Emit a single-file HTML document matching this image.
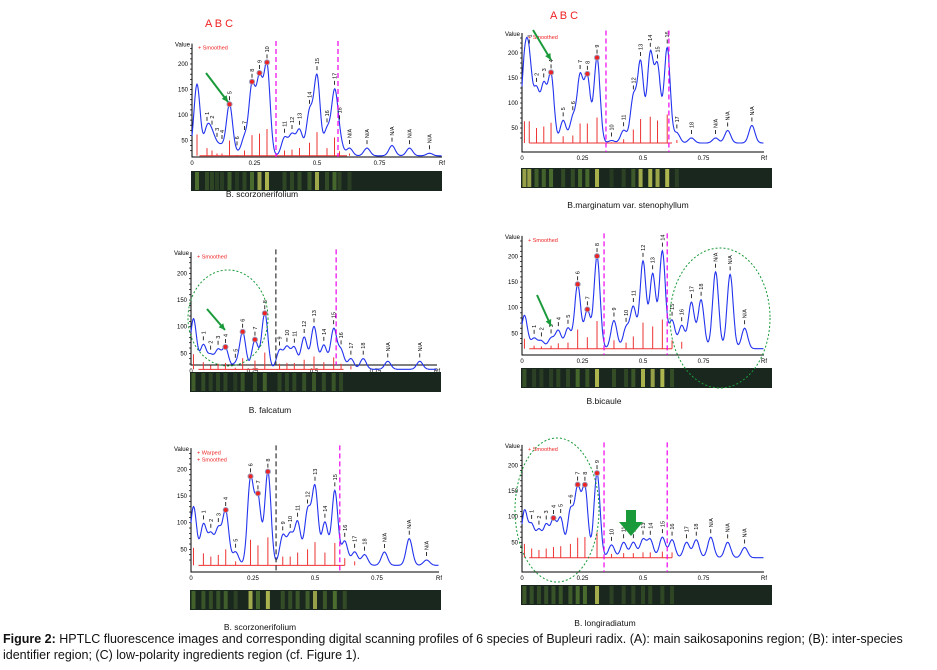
<!DOCTYPE html>
<html><head><meta charset="utf-8"><style>
body{margin:0;background:#fff;width:937px;height:670px;overflow:hidden;font-family:"Liberation Sans",sans-serif}
svg text{font-family:"Liberation Sans",sans-serif}
.cap{position:absolute;left:3px;top:631px;width:932px;font-size:12.5px;line-height:16px;color:#111}
</style></head><body>
<svg id="fig" width="937" height="670" style="position:absolute;left:0;top:0"></svg>
<div class="cap"><b>Figure 2:</b> HPTLC fluorescence images and corresponding digital scanning profiles of 6 species of Bupleuri radix. (A): main saikosaponins region; (B): inter-species identifier region; (C) low-polarity ingredients region (cf. Figure 1).</div>
<script>
const rfA=[0.02,0.06,0.08,0.1,0.12,0.15,0.18,0.21,0.24,0.27,0.3,0.37,0.4,0.43,0.47,0.5,0.54,0.57,0.59,0.63,0.7,0.8,0.87,0.95];
const valA=[160,70,55,35,35,120,25,55,155,165,195,55,60,70,105,175,70,140,50,35,35,40,35,25];
const rfB=[0.01,0.03,0.06,0.09,0.12,0.17,0.21,0.24,0.27,0.31,0.37,0.42,0.46,0.49,0.53,0.56,0.6,0.64,0.7,0.8,0.85,0.95];
const valB=[165,165,120,130,155,65,70,150,150,190,25,45,110,180,195,170,210,40,30,30,45,55];
const rfC=[0.01,0.05,0.08,0.11,0.14,0.18,0.21,0.26,0.3,0.36,0.39,0.42,0.46,0.5,0.54,0.58,0.61,0.65,0.7,0.8,0.93];
const valC=[115,65,45,55,60,30,90,75,125,55,60,60,80,100,65,95,55,40,40,35,35];
const rfD=[0.01,0.05,0.08,0.12,0.15,0.19,0.23,0.27,0.31,0.38,0.43,0.46,0.5,0.54,0.58,0.62,0.66,0.7,0.74,0.8,0.86,0.92];
const valD=[85,40,35,40,55,60,145,95,200,75,60,100,190,165,210,75,65,110,115,170,165,60];
const rfE=[0.01,0.05,0.08,0.11,0.14,0.18,0.24,0.27,0.31,0.37,0.4,0.43,0.47,0.5,0.54,0.58,0.62,0.66,0.7,0.78,0.88,0.95];
const valE=[130,95,75,85,120,45,180,145,195,75,75,100,120,165,100,160,65,45,40,45,70,30];
const rfF=[0.01,0.04,0.07,0.1,0.13,0.16,0.2,0.23,0.26,0.31,0.37,0.42,0.46,0.5,0.53,0.58,0.62,0.68,0.72,0.78,0.85,0.92];
const valF=[110,80,70,80,90,95,110,150,155,185,45,50,50,55,55,60,55,50,55,60,50,40];
const yTicks=[50,100,150,200];
const xTicks=["0","0.25","0.5","0.75"];

const panels=[
 {n:"a",rf:rfA,v:valA,x0:192,xs:250,y0:166,ys:0.51,ax:157,dash:[0.336,0.584],dashBlack:false,strip:171,label:"B. scorzonerifolium",lx:262,ly:197,dots:[5,8,9,10],leg:["+ Smoothed"]},
 {n:"b",rf:rfB,v:valB,x0:522,xs:242,y0:153,ys:0.5,ax:152,dash:[0.347,0.607],dashBlack:false,strip:168,label:"B.marginatum var. stenophyllum",lx:628,ly:208,dots:[4,8,9],leg:["+ Smoothed"]},
 {n:"c",rf:rfC,v:valC,x0:191,xs:246,y0:380,ys:0.533,ax:365,dash:[0.345,0.59],dashBlack:true,strip:372,label:"B. falcatum",lx:270,ly:413,dots:[4,6,7,8],leg:["+ Smoothed"]},
 {n:"d",rf:rfD,v:valD,x0:522,xs:242,y0:359,ys:0.513,ax:355,dash:[0.339,0.6],dashBlack:false,strip:368,label:"B.bicaule",lx:604,ly:404,dots:[6,7,8],leg:["+ Smoothed"]},
 {n:"e",rf:rfE,v:valE,x0:191,xs:248,y0:576,ys:0.533,ax:572,dash:[0.343,0.6],dashBlack:true,strip:590,label:"B. scorzonerifolium",lx:260,ly:630,dots:[4,6,7,8],leg:["+ Warped","+ Smoothed"]},
 {n:"f",rf:rfF,v:valF,x0:522,xs:242,y0:568,ys:0.513,ax:572,dash:[0.339,0.6],dashBlack:false,strip:585,label:"B. longiradiatum",lx:605,ly:626,dots:[4,7,8,9],leg:["+ Smoothed"]}
];
const NS="http://www.w3.org/2000/svg";
const svg=document.getElementById("fig");
function mk(tag,at,parent){const e=document.createElementNS(NS,tag);for(const k in at)e.setAttribute(k,at[k]);(parent||svg).appendChild(e);return e;}
panels.forEach(p=>{
 const g=mk("g",{});
 
 
 const X=r=>p.x0+r*p.xs, Y=v=>p.y0-v*p.ys;
 const base=20, sig=0.0125;
 const f=r=>{let s=base;p.rf.forEach((c,i)=>{s+=(p.v[i]-base)*Math.exp(-((r-c)*(r-c))/(2*sig*sig));});return Math.min(s,235);};
 const axl=mk("path",{d:`M${p.x0} ${Y(240)}V${p.ax}H${p.x0+p.xs*1.0}`,stroke:"#000","stroke-width":1,fill:"none"},g);
 
 const vt=mk("text",{x:p.x0-17,y:Y(240)+3,"font-size":6,fill:"#000"},g);vt.textContent="Value";
 
 for(let v=30;v<=230;v+=10){mk("line",{x1:p.x0-2,x2:p.x0,y1:Y(v),y2:Y(v),stroke:"#000","stroke-width":0.7},g);}
 yTicks.forEach(v=>{const t=mk("text",{x:p.x0-4,y:Y(v)+2,"font-size":6,"text-anchor":"end"},g);t.textContent=v;
  });
 xTicks.forEach((s,i)=>{const t=mk("text",{x:X(i*0.25),y:p.ax+8,"font-size":6,"text-anchor":"middle"},g);t.textContent=s;
  });
 const rft=mk("text",{x:X(1)-3,y:p.ax+8,"font-size":6},g);rft.textContent="Rf";
 
 p.leg.forEach((s,i)=>{const t=mk("text",{x:p.x0+6,y:Y(228)+i*7,"font-size":5.5,fill:"#e22"},g);t.textContent=s;
  });
 mk("line",{x1:X(0.03),x2:X(0.62),y1:Y(base),y2:Y(base),stroke:"#e33","stroke-width":1},g);
 p.rf.forEach((c,i)=>{if(c>0.66)return;const s=mk("line",{x1:X(c),x2:X(c),y1:Y(base),y2:Y(base+(p.v[i]-base)*0.3),stroke:"#e33","stroke-width":1},g);
  });
 let d="";for(let r=0;r<=1.0;r+=0.002){d+=(d?"L":"M")+X(r).toFixed(1)+" "+Y(f(r)).toFixed(1);}
 const cv=mk("path",{d,stroke:"#2233ee","stroke-width":1.1,fill:"none"},g);
 
 p.rf.forEach((c,i)=>{if(i==0)return;const yy=Y(f(c))-4;mk("line",{x1:X(c),x2:X(c),y1:yy,y2:yy-4,stroke:"#000","stroke-width":0.8},g);
  const t=mk("text",{x:X(c)+2,y:yy-6,"font-size":5.5,transform:`rotate(-90 ${X(c)+2} ${yy-6})`},g);t.textContent=i<19?i:"N/A";
  });
 p.dots.forEach(i=>{const dt=mk("circle",{cx:X(p.rf[i]),cy:Y(f(p.rf[i])),r:2.5,fill:"#e22",stroke:"#99b",'stroke-width':1},g);
  });
 p.dash.forEach((r,k)=>{const ln=mk("line",{x1:X(r),x2:X(r),y1:Y(245),y2:p.ax,stroke:(k==0&&p.dashBlack)?"#333":"#e0e",'stroke-width':1.2,'stroke-dasharray':"5,3"},g);
  });
 const st=mk("rect",{x:p.x0-1,y:p.strip,width:251,height:20,fill:"#1a271f"},g);
 
 p.rf.forEach((c,i)=>{if(c>0.64)return;const a=Math.min(1,(p.v[i]-20)/180);
  const b=mk("rect",{x:X(c)-2,y:p.strip+1,width:4,height:18,fill:a>0.8?"#e0e860":"#6a9a38",opacity:(0.15+0.6*a).toFixed(2)},g);
  });
 const lt=mk("text",{x:p.lx,y:p.ly,"font-size":8.5,"text-anchor":"middle",fill:"#111"},g);lt.textContent=p.label;
 
});
[[205,27],[550,19]].forEach(([x,y])=>{const t=mk("text",{x,y,"font-size":11,fill:"#e22"});t.textContent="A B C";
 });
function arrow(x1,y1,x2,y2){const a=mk("line",{x1,y1,x2,y2,stroke:"#1a9a3a","stroke-width":2});
 
 const ang=Math.atan2(y2-y1,x2-x1),L=7;
 mk("polygon",{points:`${x2},${y2} ${x2-L*Math.cos(ang-0.45)},${y2-L*Math.sin(ang-0.45)} ${x2-L*Math.cos(ang+0.45)},${y2-L*Math.sin(ang+0.45)}`,fill:"#1a9a3a"});}
arrow(206,73,228,102);arrow(533,30,551,60);arrow(207,309,225,330);arrow(537,295,551,326);
const big=mk("polygon",{points:"626,510 636,510 636,522 643,522 631,536 619,522 626,522",fill:"#1a9a3a"});

[[228,318,40,48],[720,318,50,70],[557,510,42,72]].forEach(([cx,cy,rx,ry])=>{const e=mk("ellipse",{cx,cy,rx,ry,fill:"none",stroke:"#1a9a3a","stroke-width":1,"stroke-dasharray":"2,2"});
 });
</script>
</body></html>
